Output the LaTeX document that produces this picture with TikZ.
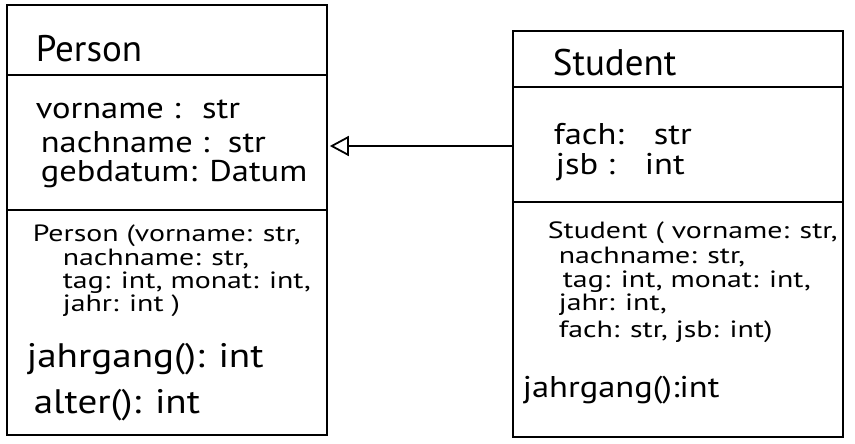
\documentclass[tikz,border=0pt]{standalone}
\usepackage{fontspec}
\setmainfont{PT Sans}
\newfontfamily\handfont[FakeStretch=1.15]{PT Sans}
\newfontfamily\handwide[FakeStretch=1.27]{PT Sans}
\usetikzlibrary{arrows.meta}

\begin{document}
\begin{tikzpicture}[x=1pt, y=-1pt, line width=1.7pt,
  classbox/.style={draw, inner sep=0pt},
  classname/.style={anchor=base west, inner sep=0pt, font=\fontsize{37}{37}\selectfont},
  attr/.style={anchor=base west, inner sep=0pt, font=\handfont\fontsize{30}{30}\selectfont},
  op/.style={anchor=base west, inner sep=0pt, font=\handfont\fontsize{34}{34}\selectfont},
  meth/.style={anchor=base west, inner sep=0pt, font=\handwide\fontsize{23.5}{23.5}\selectfont},
  inherit/.style={-{Triangle[open, length=19pt, width=20pt, line width=1.8pt]}, shorten >=2pt}]
\useasboundingbox (0,0) rectangle (855,444);
% classes
\node[classbox, minimum width=320pt, minimum height=430pt] (person) at (167,220) {};
\node[classbox, minimum width=330pt, minimum height=406pt] (student) at (678,234) {};
% compartments
\coordinate (pd1) at (0,75);
\coordinate (pd2) at (0,210);
\coordinate (sd1) at (0,87);
\coordinate (sd2) at (0,202);
\draw (person.west |- pd1) -- (person.east |- pd1);
\draw (person.west |- pd2) -- (person.east |- pd2);
\draw (student.west |- sd1) -- (student.east |- sd1);
\draw (student.west |- sd2) -- (student.east |- sd2);
% Person
\node[classname] (ptitle) at (35,62) {Person};
\node[attr] (pa1) at (35,118) {vorname : \ str};
\node[attr] (pa2) at (40,153) {nachname :\ \ str};
\node[attr] (pa3) at (40,181) {gebdatum: Datum};
\node[meth] (pm1) at (32,241) {Person (vorname: str,};
\node[meth] (pm2) at (62,265) {nachname: str,};
\node[meth] (pm3) at (62,288) {tag: int, monat: int,};
\node[meth] (pm4) at (62,311) {jahr: int )};
\node[op] (pm5) at (26,367) {jahrgang(): int};
\node[op] (pm6) at (33,413) {alter(): int};
% Student
\node[classname] (stitle) at (552,76) {Student};
\node[attr] (sa1) at (553,145) {fach:\quad str};
\node[attr] (sa2) at (555,175) {jsb :\quad int};
\node[meth] (sm1) at (547,238) {Student ( vorname: str,};
\node[meth] (sm2) at (558,263) {nachname: str,};
\node[meth] (sm3) at (562,287) {tag: int, monat: int,};
\node[meth] (sm4) at (558,310) {jahr: int,};
\node[meth] (sm5) at (558,337) {fach: str, jsb: int)};
\node[attr] (sm6) at (522,397) {jahrgang():int};
% generalization
\coordinate (gen) at (0,146);
\draw[inherit] (student.west |- gen) -- (person.east |- gen);
\end{tikzpicture}
\end{document}
